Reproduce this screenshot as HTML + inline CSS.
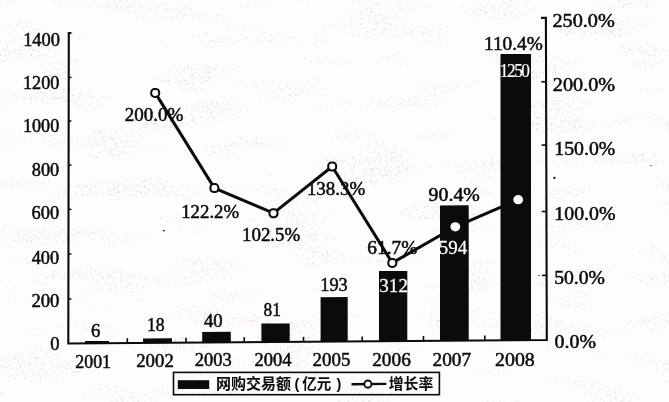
<!DOCTYPE html>
<html><head><meta charset="utf-8"><title>chart</title>
<style>
html,body{margin:0;padding:0;background:#fefdfd;}
body{width:669px;height:402px;overflow:hidden;font-family:"Liberation Serif",serif;}
svg{display:block}
text{font-family:"Liberation Serif",serif;}
</style></head><body>
<svg width="669" height="402" viewBox="0 0 669 402">
<defs><filter id="soft" x="0" y="0" width="100%" height="100%" filterUnits="userSpaceOnUse" color-interpolation-filters="sRGB"><feGaussianBlur stdDeviation="0.4"/></filter></defs>
<filter id="grain" x="0" y="0" width="100%" height="100%" filterUnits="userSpaceOnUse" color-interpolation-filters="sRGB">
<feTurbulence type="fractalNoise" baseFrequency="0.55 0.35" numOctaves="2" seed="11" result="fine"/>
<feTurbulence type="fractalNoise" baseFrequency="0.012 0.045" numOctaves="2" seed="4" result="coarse"/>
<feColorMatrix in="fine" type="matrix" values="0 0 0 0 0.72  0 0 0 0 0.55  0 0 0 0 0.57  3.2 0 0 0 -1.75" result="f2"/>
<feColorMatrix in="coarse" type="matrix" values="0 0 0 0 1  0 0 0 0 1  0 0 0 0 1  0 4.5 0 0 -2.15" result="c2"/>
<feComposite in="f2" in2="c2" operator="in"/>
<feGaussianBlur stdDeviation="0.6"/>
</filter>
<rect width="669" height="402" fill="#fefdfd"/>
<rect width="669" height="402" fill="#fff" filter="url(#grain)" opacity="0.38"/>
<g filter="url(#soft)">
<path d="M85,343.48L85,341.1L109,340.9L109,343.30Z" fill="#0b0b0b"/>
<path d="M143,343.05L143,338.40000000000003L172,338.2L172,342.83Z" fill="#0b0b0b"/>
<path d="M202.2,342.60L202.2,331.90000000000003L230.8,331.7L230.8,342.39Z" fill="#0b0b0b"/>
<path d="M261.4,342.16L261.4,323.6L289.7,323.4L289.7,341.94Z" fill="#0b0b0b"/>
<path d="M320.6,341.71L320.6,297.3L347.7,297.09999999999997L347.7,341.51Z" fill="#0b0b0b"/>
<path d="M379.0,341.28L379.0,271.1L407.3,270.9L407.3,341.06Z" fill="#0b0b0b"/>
<path d="M440,340.82L440,205.5L468.7,205.3L468.7,340.60Z" fill="#0b0b0b"/>
<path d="M500.5,340.36L500.5,54.1L531,53.9L531,340.14Z" fill="#0b0b0b"/>
<path d="M71.4,33L68.8,33L68.3,343.5L546.8,340.0L545.9,17.9L541,17.9" fill="none" stroke="#0b0b0b" stroke-width="2.1" stroke-linejoin="miter"/>
<path d="M68.5,77.4L71.4,77.4" stroke="#0b0b0b" stroke-width="1.5"/>
<path d="M68.5,121.0L71.4,121.0" stroke="#0b0b0b" stroke-width="1.5"/>
<path d="M68.5,165.1L71.4,165.1" stroke="#0b0b0b" stroke-width="1.5"/>
<path d="M68.5,209.4L71.4,209.4" stroke="#0b0b0b" stroke-width="1.5"/>
<path d="M68.5,254.0L71.4,254.0" stroke="#0b0b0b" stroke-width="1.5"/>
<path d="M68.5,299.0L71.4,299.0" stroke="#0b0b0b" stroke-width="1.5"/>
<path d="M546.08,81.8L541.38,81.8" stroke="#0b0b0b" stroke-width="1.6"/>
<path d="M546.26,145.1L541.56,145.1" stroke="#0b0b0b" stroke-width="1.6"/>
<path d="M546.44,211.5L541.74,211.5" stroke="#0b0b0b" stroke-width="1.6"/>
<path d="M546.62,275.4L541.92,275.4" stroke="#0b0b0b" stroke-width="1.6"/>
<path d="M127.3,343.16L127.3,338.16" stroke="#0b0b0b" stroke-width="1.6"/>
<path d="M186,342.72L186,337.72" stroke="#0b0b0b" stroke-width="1.6"/>
<path d="M244.2,342.29L244.2,337.29" stroke="#0b0b0b" stroke-width="1.6"/>
<path d="M303.5,341.84L303.5,336.84" stroke="#0b0b0b" stroke-width="1.6"/>
<path d="M362.2,341.40L362.2,336.40" stroke="#0b0b0b" stroke-width="1.6"/>
<path d="M423.5,340.94L423.5,335.94" stroke="#0b0b0b" stroke-width="1.6"/>
<path d="M484.8,340.48L484.8,335.48" stroke="#0b0b0b" stroke-width="1.6"/>
<polyline points="155.2,92.9 214.4,188.1 273.5,213.2 332.2,166.5 392.3,262.9 455.3,226.8 518.2,199.7" fill="none" stroke="#0b0b0b" stroke-width="3" stroke-linejoin="round"/>
<rect x="151.20" y="88.90" width="8" height="8" rx="3.4" fill="#fff" stroke="#0b0b0b" stroke-width="2"/>
<rect x="210.40" y="184.10" width="8" height="8" rx="3.4" fill="#fff" stroke="#0b0b0b" stroke-width="2"/>
<rect x="269.50" y="209.20" width="8" height="8" rx="3.4" fill="#fff" stroke="#0b0b0b" stroke-width="2"/>
<rect x="328.20" y="162.50" width="8" height="8" rx="3.4" fill="#fff" stroke="#0b0b0b" stroke-width="2"/>
<rect x="388.30" y="258.90" width="8" height="8" rx="3.4" fill="#fff" stroke="#0b0b0b" stroke-width="2"/>
<ellipse cx="455.3" cy="226.8" rx="4.9" ry="4.6" fill="#fff"/>
<ellipse cx="518.2" cy="199.7" rx="4.9" ry="4.6" fill="#fff"/>
<text transform="translate(23.13,45.50) scale(0.9862,1)" font-size="18.67" fill="#0b0b0b" stroke="#0b0b0b" stroke-width="0.5">1400</text>
<text transform="translate(22.95,89.00) scale(0.9777,1)" font-size="18.67" fill="#0b0b0b" stroke="#0b0b0b" stroke-width="0.5">1200</text>
<text transform="translate(22.96,132.10) scale(0.9719,1)" font-size="18.67" fill="#0b0b0b" stroke="#0b0b0b" stroke-width="0.5">1000</text>
<text transform="translate(31.75,176.10) scale(0.9820,1)" font-size="18.67" fill="#0b0b0b" stroke="#0b0b0b" stroke-width="0.5">800</text>
<text transform="translate(31.56,219.40) scale(0.9854,1)" font-size="18.67" fill="#0b0b0b" stroke="#0b0b0b" stroke-width="0.5">600</text>
<text transform="translate(31.69,263.90) scale(0.9805,1)" font-size="18.67" fill="#0b0b0b" stroke="#0b0b0b" stroke-width="0.5">400</text>
<text transform="translate(31.43,307.10) scale(1.0012,1)" font-size="18.67" fill="#0b0b0b" stroke="#0b0b0b" stroke-width="0.5">200</text>
<text transform="translate(50.34,350.30) scale(0.9986,1)" font-size="18.67" fill="#0b0b0b" stroke="#0b0b0b" stroke-width="0.5">0</text>
<text transform="translate(75.37,367.70) scale(0.9550,1)" font-size="18.67" fill="#0b0b0b" stroke="#0b0b0b" stroke-width="0.5">2001</text>
<text transform="translate(136.22,366.80) scale(1.0061,1)" font-size="18.67" fill="#0b0b0b" stroke="#0b0b0b" stroke-width="0.5">2002</text>
<text transform="translate(194.74,366.40) scale(0.9921,1)" font-size="18.67" fill="#0b0b0b" stroke="#0b0b0b" stroke-width="0.5">2003</text>
<text transform="translate(254.53,366.00) scale(0.9939,1)" font-size="18.67" fill="#0b0b0b" stroke="#0b0b0b" stroke-width="0.5">2004</text>
<text transform="translate(312.62,365.60) scale(1.0144,1)" font-size="18.67" fill="#0b0b0b" stroke="#0b0b0b" stroke-width="0.5">2005</text>
<text transform="translate(372.20,365.50) scale(1.0346,1)" font-size="18.67" fill="#0b0b0b" stroke="#0b0b0b" stroke-width="0.5">2006</text>
<text transform="translate(432.60,365.60) scale(1.0313,1)" font-size="18.67" fill="#0b0b0b" stroke="#0b0b0b" stroke-width="0.5">2007</text>
<text transform="translate(495.08,365.60) scale(1.0642,1)" font-size="18.67" fill="#0b0b0b" stroke="#0b0b0b" stroke-width="0.5">2008</text>
<text transform="translate(91.05,336.80) scale(1.0031,1)" font-size="18.67" fill="#0b0b0b" stroke="#0b0b0b" stroke-width="0.5">6</text>
<text transform="translate(146.90,331.20) scale(0.9439,1)" font-size="18.67" fill="#0b0b0b" stroke="#0b0b0b" stroke-width="0.5">18</text>
<text transform="translate(203.99,326.90) scale(1.0005,1)" font-size="18.67" fill="#0b0b0b" stroke="#0b0b0b" stroke-width="0.5">40</text>
<text transform="translate(263.49,316.30) scale(0.9267,1)" font-size="18.67" fill="#0b0b0b" stroke="#0b0b0b" stroke-width="0.5">81</text>
<text transform="translate(320.24,291.40) scale(0.9793,1)" font-size="18.67" fill="#0b0b0b" stroke="#0b0b0b" stroke-width="0.5">193</text>
<text transform="translate(379.31,291.70) scale(1.0261,1)" font-size="18.59" fill="#fff" stroke="#fff" stroke-width="0.25">312</text>
<text transform="translate(438.82,254.20) scale(1.0201,1)" font-size="18.59" fill="#fff" stroke="#fff" stroke-width="0.25">594</text>
<text transform="translate(499.77,77.00) scale(0.9300,1)" font-size="18.67" fill="#fff" stroke="#fff" stroke-width="0.2" letter-spacing="-1.589">1250</text>
<text transform="translate(124.71,121.00) scale(1.0601,1)" font-size="17.93" fill="#0b0b0b" stroke="#0b0b0b" stroke-width="0.5">200.0%</text>
<text transform="translate(181.20,217.80) scale(1.0494,1)" font-size="17.93" fill="#0b0b0b" stroke="#0b0b0b" stroke-width="0.5">122.2%</text>
<text transform="translate(241.99,241.00) scale(1.0551,1)" font-size="17.93" fill="#0b0b0b" stroke="#0b0b0b" stroke-width="0.5">102.5%</text>
<text transform="translate(306.89,195.40) scale(1.0551,1)" font-size="17.93" fill="#0b0b0b" stroke="#0b0b0b" stroke-width="0.5">138.3%</text>
<text transform="translate(367.32,253.60) scale(1.0797,1)" font-size="17.93" fill="#0b0b0b" stroke="#0b0b0b" stroke-width="0.5">61.7%</text>
<text transform="translate(428.61,201.40) scale(1.1061,1)" font-size="17.93" fill="#0b0b0b" stroke="#0b0b0b" stroke-width="0.5">90.4%</text>
<text transform="translate(483.95,50.00) scale(1.0777,1)" font-size="17.93" fill="#0b0b0b" stroke="#0b0b0b" stroke-width="0.5">110.4%</text>
<text transform="translate(552.46,26.50) scale(1.0840,1)" font-size="18.67" fill="#0b0b0b" stroke="#0b0b0b" stroke-width="0.5">250.0%</text>
<text transform="translate(552.86,90.60) scale(1.0840,1)" font-size="18.67" fill="#0b0b0b" stroke="#0b0b0b" stroke-width="0.5">200.0%</text>
<text transform="translate(554.31,155.00) scale(1.0584,1)" font-size="18.67" fill="#0b0b0b" stroke="#0b0b0b" stroke-width="0.5">150.0%</text>
<text transform="translate(554.31,220.00) scale(1.0620,1)" font-size="18.67" fill="#0b0b0b" stroke="#0b0b0b" stroke-width="0.5">100.0%</text>
<text transform="translate(554.21,284.00) scale(1.0539,1)" font-size="18.67" fill="#0b0b0b" stroke="#0b0b0b" stroke-width="0.5">50.0%</text>
<text transform="translate(554.59,348.30) scale(1.0630,1)" font-size="18.67" fill="#0b0b0b" stroke="#0b0b0b" stroke-width="0.5">0.0%</text>
<circle cx="554.4" cy="177.9" r="1.15" fill="#0b0b0b"/>
<circle cx="163.8" cy="230.6" r="0.9" fill="#0b0b0b"/>
<circle cx="651" cy="165.7" r="0.6" fill="#0b0b0b"/>
<circle cx="539" cy="275.4" r="0.6" fill="#0b0b0b"/>
<rect x="173.5" y="372.4" width="265.9" height="22.3" fill="none" stroke="#0b0b0b" stroke-width="1.6"/>
<rect x="177.8" y="380.2" width="31.4" height="8.8" fill="#0b0b0b"/>
<text x="216" y="389" font-size="15" font-weight="bold" fill="#0b0b0b" style="font-family:'Liberation Sans','Noto Sans CJK SC',sans-serif;">网购交易额</text>
<text x="294.5" y="388.6" font-size="14.5" font-weight="bold" fill="#0b0b0b" style="font-family:'Liberation Sans','Noto Sans CJK SC',sans-serif;">(</text>
<text x="302.2" y="389" font-size="14.5" font-weight="bold" fill="#0b0b0b" style="font-family:'Liberation Sans','Noto Sans CJK SC',sans-serif;">亿元</text>
<text x="336.5" y="388.6" font-size="14.5" font-weight="bold" fill="#0b0b0b" style="font-family:'Liberation Sans','Noto Sans CJK SC',sans-serif;">)</text>
<path d="M351.5,384.2L386.3,383.9" stroke="#0b0b0b" stroke-width="2.4"/>
<circle cx="367.9" cy="384.1" r="3.6" fill="#fff" stroke="#0b0b0b" stroke-width="1.9"/>
<text x="388.8" y="389" font-size="14.8" font-weight="bold" fill="#0b0b0b" style="font-family:'Liberation Sans','Noto Sans CJK SC',sans-serif;">增长率</text>
</g>
</svg>
</body></html>
